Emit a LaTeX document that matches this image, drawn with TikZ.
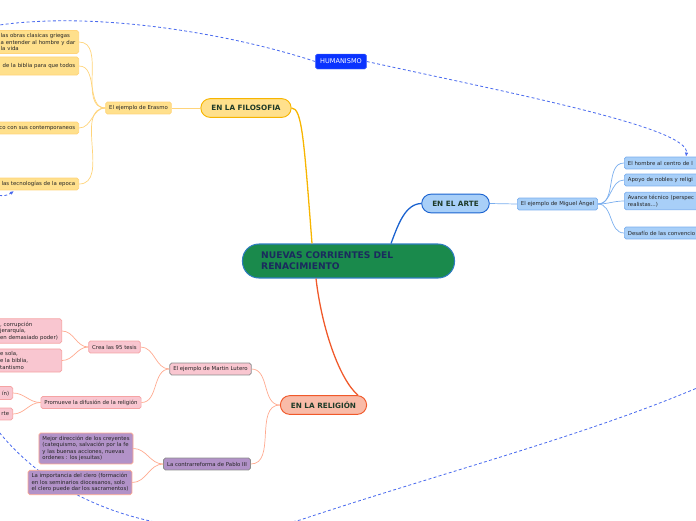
\documentclass[tikz,border=0pt]{standalone}
\usepackage{fontspec}
\setmainfont{DejaVu Sans}
\usetikzlibrary{arrows.meta, calc}

\definecolor{coregreen}{HTML}{1A8A4C}
\definecolor{coreline}{HTML}{2E7DC0}
\definecolor{corenavy}{HTML}{1A2A5E}
\definecolor{topictext}{HTML}{1E3A28}
\definecolor{leaftext}{HTML}{262626}
\definecolor{filfill}{HTML}{FFE08C}
\definecolor{filline}{HTML}{F7B500}
\definecolor{filsoft}{HTML}{FFD47A}
\definecolor{artfill}{HTML}{A8CFF8}
\definecolor{artline}{HTML}{1A62D0}
\definecolor{artsoft}{HTML}{7AAEEE}
\definecolor{relfill}{HTML}{F9BBA8}
\definecolor{relline}{HTML}{F0592A}
\definecolor{relsoft}{HTML}{FFAA90}
\definecolor{pinkfill}{HTML}{F9C6D0}
\definecolor{pinkline}{HTML}{F5A3A3}
\definecolor{purfill}{HTML}{B292C8}
\definecolor{grayline}{HTML}{8A8A8A}
\definecolor{humblue}{HTML}{0A33FF}
\definecolor{relblue}{HTML}{4B6BEE}

\newcommand{\mapsmall}{\fontsize{4.6}{5.6}\selectfont}

\begin{document}
\begin{tikzpicture}[x=0.03cm, y=-0.03cm,
    core/.style={rectangle, rounded corners=14pt, draw=coreline, fill=coregreen, line width=0.9pt, text=corenavy, font=\bfseries\fontsize{7.8}{9.4}\selectfont, align=left, text width=149pt, inner xsep=16pt, minimum height=29pt},
    topic/.style={rectangle, rounded corners=8pt, line width=0.8pt, minimum height=16pt, inner xsep=9pt, text=topictext, font=\bfseries\fontsize{6.2}{7}\selectfont},
    hum/.style={rectangle, rounded corners=1.5pt, fill=humblue, draw=humblue!70!white, text=white, font=\fontsize{5.6}{6.5}\selectfont, inner xsep=4pt, minimum height=12.8pt},
    leaf/.style={rectangle, rounded corners=1.5pt, line width=0.6pt, minimum height=10.2pt, inner xsep=3pt, inner ysep=2.5pt, text=leaftext, font=\mapsmall, align=left},
    cutleaf/.style={anchor=east, text width=90pt, align=right},
    filleaf/.style={leaf, fill=filfill, draw=filsoft},
    artleaf/.style={leaf, fill=artfill, draw=artsoft},
    relleaf/.style={leaf, fill=pinkfill, draw=pinkline},
    lutleaf/.style={leaf, fill=pinkfill, draw=grayline},
    purleaf/.style={leaf, fill=purfill, draw=grayline},
    purnote/.style={leaf, fill=purfill, draw=relsoft},
    filmain/.style={draw=filline, line width=1.1pt},
    artmain/.style={draw=artline, line width=1.1pt},
    relmain/.style={draw=relline, line width=1.1pt},
    filsub/.style={draw=filsoft, line width=0.6pt},
    artsub/.style={draw=artsoft, line width=0.6pt},
    relsub/.style={draw=relsoft, line width=0.6pt},
    relation/.style={draw=relblue, line width=0.7pt, dash pattern=on 2.5pt off 2pt}
]
    \useasboundingbox (0,0) rectangle (696,520);
    \clip (0,0) rectangle (696,520);

    % relation running under the picture
    \coordinate (lowstart) at (-10,420);
    \coordinate (lowmid) at (300,520);
    \coordinate (lowend) at (720,378);
    \draw[relation] (lowstart) .. controls (60,520) and (200,545) .. (lowmid)
        .. controls (450,470) and (600,432) .. (lowend);

    % main topics
    \node[core] (core) at (348.5,261) {NUEVAS CORRIENTES DEL\\RENACIMIENTO};
    \node[topic, fill=filfill, draw=filline] (fil) at (246,108) {EN LA FILOSOFIA};
    \node[topic, fill=artfill, draw=artline] (arte) at (455.5,203.5) {EN EL ARTE};
    \node[topic, fill=relfill, draw=relline] (rel) at (323.5,405) {EN LA RELIGIÓN};
    \node[hum] (hum) at (341,61.5) {HUMANISMO};

    % filosofia
    \node[filleaf] (erasmo) at (138.5,108) {El ejemplo de Erasmo};
    \node[filleaf, anchor=east, text width=63.5pt] (fa) at (79,42) {\mbox{las obras clasicas griegas}\\\mbox{a entender al hombre y dar}\\la vida};
    \node[filleaf, cutleaf, minimum height=15.4pt] (fb) at (79,66) {de la biblia para que todos};
    \node[filleaf, cutleaf] (fc) at (79,128) {co con sus contemporaneos};
    \node[filleaf, cutleaf] (fd) at (79,184) {las tecnologías de la epoca};

    % arte
    \node[artleaf] (miguel) at (557.5,204) {El ejemplo de Miguel Ángel};
    \node[artleaf, anchor=west, text width=90pt] (aa) at (624,163) {El hombre al centro de l};
    \node[artleaf, anchor=west, text width=90pt] (ab) at (624,180) {Apoyo de nobles y religi};
    \node[artleaf, anchor=west, text width=90pt] (ac) at (624,201) {Avance técnico (perspec\\realistas...)};
    \node[artleaf, anchor=west, text width=90pt] (ad) at (624,233) {Desafío de las convencio};

    % religion
    \node[lutleaf] (lutero) at (210.5,369) {El ejemplo de Martin Lutero};
    \node[relleaf] (crea) at (114.5,347) {Crea las 95 tesis};
    \node[relleaf] (prom) at (91,402.5) {Promueve la difusión de la religión};
    \node[relleaf, anchor=east, text width=49.5pt] (ca) at (62,331) {, corrupción\\ jerarquía,\\\mbox{en demasiado poder)}};
    \node[relleaf, anchor=east, text width=49.5pt] (cb) at (62,360.5) {e sola,\\e la biblia,\\tantismo};
    \node[relleaf, cutleaf] (pa) at (13,393) {\mbox{}\\ín)};
    \node[relleaf, cutleaf] (pb) at (13,414) {rte};
    \node[purleaf] (contra) at (207,464) {La contrarreforma de Pablo III};
    \node[purnote] (mejor) at (86,448.5) {Mejor dirección de los creyentes\\(catequismo, salvación por la fe\\y las buenas acciones, nuevas\\ordenes : los jesuitas)};
    \node[purnote] (clero) at (80,482.5) {La importancia del clero (formación\\en los seminarios diocesanos, solo\\el clero puede dar los sacramentos)};

    % branches from the centre
    \draw[filmain] (fil.east) .. controls (302,108) and (304,140) .. ($(core.north)+(-36.5,0)$);
    \draw[artmain] ($(core.north)+(42.5,0)$) .. controls (398,225) and (405,204) .. (arte.west);
    \draw[relmain] ($(core.south)+(-32.5,0)$) .. controls (322,330) and (340,380) .. ($(rel.north)+(34.5,0)$);

    \draw[filsub] (fil.west) -- (erasmo.east);
    \foreach \leafname in {fa,fb,fc,fd}
        \draw[filsub] (erasmo.west) to[out=180, in=0] (\leafname.east);

    \draw[artsub] (arte.east) -- (miguel.west);
    \foreach \leafname in {aa,ab,ac,ad}
        \draw[artsub] (miguel.east) to[out=0, in=180] (\leafname.west);

    \draw[relsub] (rel.west) to[out=180, in=0] (lutero.east);
    \draw[relsub] (rel.west) to[out=180, in=0] (contra.east);
    \draw[relsub] (lutero.west) to[out=180, in=0] (crea.east);
    \draw[relsub] (lutero.west) to[out=180, in=0] (prom.east);
    \draw[relsub] (crea.west) to[out=180, in=0] (ca.east);
    \draw[relsub] (crea.west) to[out=180, in=0] (cb.east);
    \draw[relsub] (prom.west) to[out=180, in=0] (pa.east);
    \draw[relsub] (prom.west) to[out=180, in=0] (pb.east);
    \draw[relsub] (contra.west) to[out=180, in=0] (mejor.east);
    \draw[relsub] (contra.west) to[out=180, in=0] (clero.east);

    % humanismo relations
    \coordinate (humturn) at (-60,40);
    \coordinate (humtip) at (14,191);
    \draw[relation, -{Latex[length=3.5pt, width=3pt]}] (hum.west) .. controls (220,30) and (40,0) .. (humturn)
        .. controls (-110,90) and (-20,215) .. (humtip);
    \draw[relation, -{Latex[length=3.5pt, width=3pt]}] (hum.east) .. controls (520,95) and (690,128) .. ($(aa.north west)+(62,0)$);
\end{tikzpicture}
\end{document}
